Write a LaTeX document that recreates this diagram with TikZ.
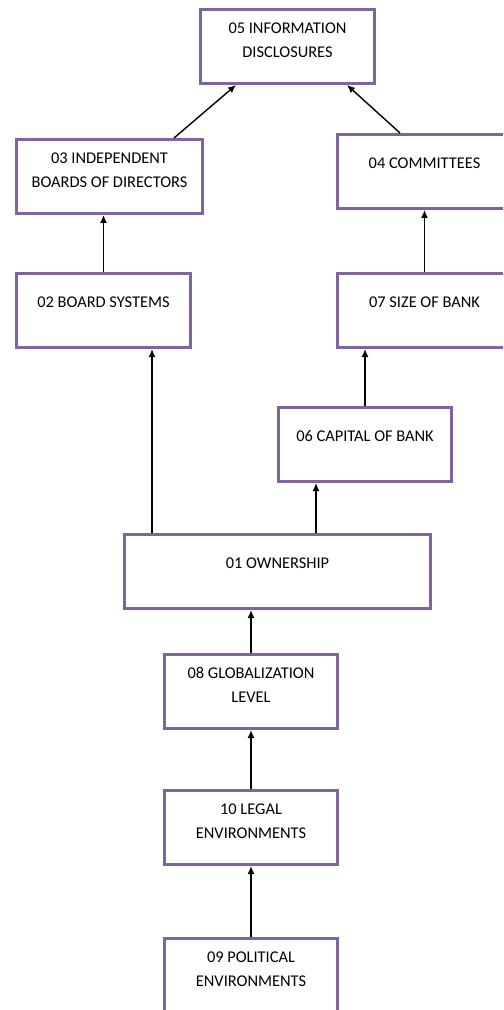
\documentclass[tikz,border=0pt]{standalone}
\usepackage{fontspec}
\setmainfont{Carlito}
\usetikzlibrary{arrows.meta}
\definecolor{boxpurple}{HTML}{8064A2}

\begin{document}
\begin{tikzpicture}[x=0.5pt, y=-0.5pt, >={Latex[length=4pt,width=3.5pt]},
  box/.style={draw=boxpurple, line width=1.5pt, anchor=north west, minimum width=#1, minimum height=37pt, inner sep=0pt},
  box/.default=87pt,
  txt/.style={anchor=north, align=center, inner sep=0pt, yshift=-#1, font=\fontsize{8.2}{12}\selectfont},
  txt/.default=7.1pt,
  link/.style={->, line width=0.7pt}]
\clip (0,0) rectangle (503,1010);
\node[box, label={[txt]north:05 INFORMATION\\DISCLOSURES}] (n05) at (199,8) {};
\node[box=93pt, label={[txt]north:03 INDEPENDENT\\BOARDS OF DIRECTORS}] (n03) at (15,138) {};
\node[box, label={[txt=12.1pt]north:04 COMMITTEES}] (n04) at (336,133) {};
\node[box, label={[txt=12.1pt]north:02 BOARD SYSTEMS}] (n02) at (15,272) {};
\node[box, label={[txt=12.1pt]north:07 SIZE OF BANK}] (n07) at (336,272) {};
\node[box=86.5pt, label={[txt=12.1pt]north:06 CAPITAL OF BANK}] (n06) at (277,406) {};
\node[box=153pt, label={[txt=12.1pt]north:01 OWNERSHIP}] (n01) at (123,533) {};
\node[box=86.5pt, label={[txt]north:08 GLOBALIZATION\\LEVEL}] (n08) at (163,653) {};
\node[box=86.5pt, label={[txt]north:10 LEGAL\\ENVIRONMENTS}] (n10) at (163,789) {};
\node[box=86.5pt, label={[txt]north:09 POLITICAL\\ENVIRONMENTS}] (n09) at (163,937) {};
% arrow ends off the box centres
\coordinate (a03) at ([xshift=79.5pt]n03.north west);\coordinate (b05) at ([xshift=18.5pt]n05.south west);
\coordinate (a04) at ([xshift=32pt]n04.north west);\coordinate (c05) at ([xshift=74pt]n05.south west);
\coordinate (a01) at ([xshift=14.5pt]n01.north west);\coordinate (b01) at ([xshift=96.5pt]n01.north west);
\draw[link] (a03) -- (b05);
\draw[link] (a04) -- (c05);
\draw[link] (n02.north) -- (n02.north |- n03.south);
\draw[link] (n07.north) -- (n07.north |- n04.south);
\draw[link] (a01) -- (a01 |- n02.south);
\draw[link] (b01) -- (b01 |- n06.south);
\draw[link] (n06.north) -- (n06.north |- n07.south);
\draw[link] (n08.north) -- (n08.north |- n01.south);
\draw[link] (n10.north) -- (n08.south);
\draw[link] (n09.north) -- (n10.south);
\end{tikzpicture}
\end{document}
